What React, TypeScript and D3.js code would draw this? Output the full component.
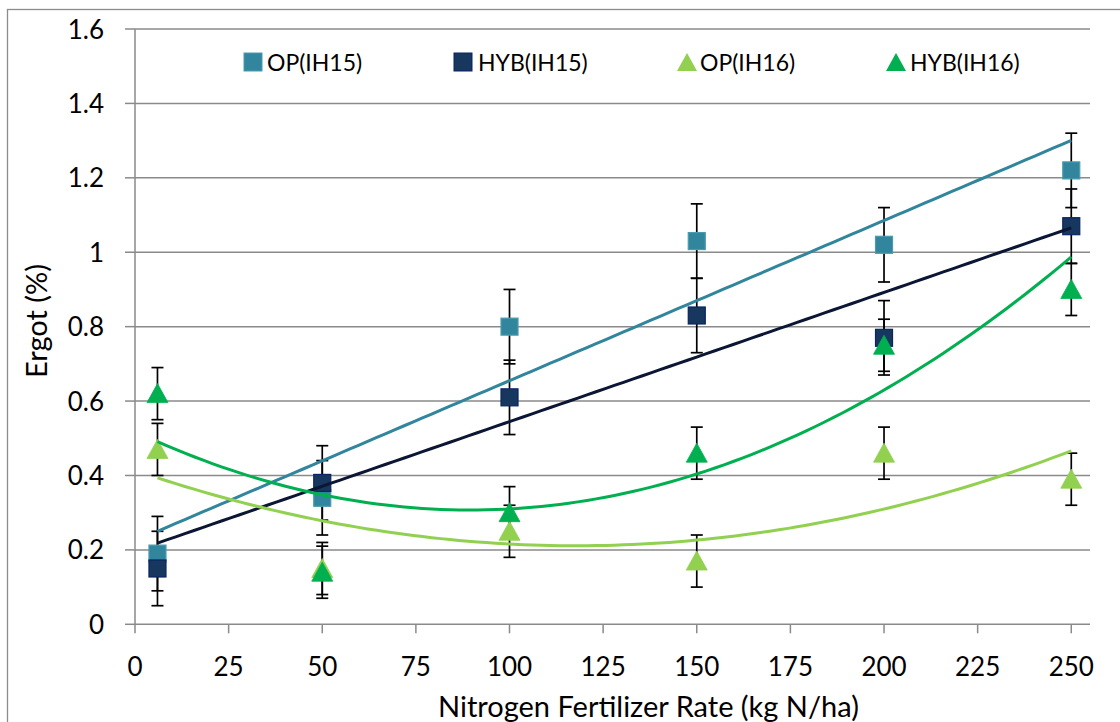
import React from "react";
import * as d3 from "d3";

// ---------- data ----------
const xValues = [6, 50, 100, 150, 200, 250];
const opIH15 = [0.19, 0.34, 0.8, 1.03, 1.02, 1.22];
const hybIH15 = [0.15, 0.38, 0.61, 0.83, 0.77, 1.07];
const opIH16 = [0.47, 0.15, 0.25, 0.17, 0.46, 0.39];
const hybIH16 = [0.62, 0.14, 0.3, 0.46, 0.75, 0.9];
const opIH15Err = [0.1, 0.1, 0.1, 0.1, 0.1, 0.1];
const hybIH15Err = [0.1, 0.1, 0.1, 0.1, 0.1, 0.1];
const opIH16Err = [0.07, 0.07, 0.07, 0.07, 0.07, 0.07];
const hybIH16Err = [0.07, 0.07, 0.07, 0.07, 0.07, 0.07];
const seriesNames = ["OP(IH15)", "HYB(IH15)", "OP(IH16)", "HYB(IH16)"];
const xTicks = [0, 25, 50, 75, 100, 125, 150, 175, 200, 225, 250];
const yTicks = [0, 0.2, 0.4, 0.6, 0.8, 1, 1.2, 1.4, 1.6];
const xTitle = "Nitrogen Fertilizer Rate (kg N/ha)";
const yTitle = "Ergot (%)";

// ---------- fits ----------
function polyFit(xs: number[], ys: number[], degree: number): number[] {
  const n = degree + 1;
  const A: number[][] = Array.from({ length: n }, () => new Array(n + 1).fill(0));
  for (let i = 0; i < xs.length; i++) {
    for (let r = 0; r < n; r++) {
      for (let c = 0; c < n; c++) A[r][c] += Math.pow(xs[i], r + c);
      A[r][n] += ys[i] * Math.pow(xs[i], r);
    }
  }
  for (let p = 0; p < n; p++) {
    let max = p;
    for (let r = p + 1; r < n; r++) if (Math.abs(A[r][p]) > Math.abs(A[max][p])) max = r;
    [A[p], A[max]] = [A[max], A[p]];
    for (let r = p + 1; r < n; r++) {
      const f = A[r][p] / A[p][p];
      for (let c = p; c <= n; c++) A[r][c] -= f * A[p][c];
    }
  }
  const coef = new Array(n).fill(0);
  for (let r = n - 1; r >= 0; r--) {
    let s = A[r][n];
    for (let c = r + 1; c < n; c++) s -= A[r][c] * coef[c];
    coef[r] = s / A[r][r];
  }
  return coef;
}
const evalPoly = (coef: number[], x: number) => coef.reduce((s, c, i) => s + c * Math.pow(x, i), 0);

const FONT = "Lato, 'Open Sans', sans-serif";

export default function App() {
  const W = 1120;
  const H = 722;
  const x = d3.scaleLinear().domain([0, 255]).range([135, 1090]);
  const y = d3.scaleLinear().domain([0, 1.6]).range([624.3, 29]);

  const series = [
    { name: seriesNames[0], vals: opIH15, err: opIH15Err, shape: "square", fill: "#31859C", stroke: "#4A9BB0", line: "#31859C", deg: 1 },
    { name: seriesNames[1], vals: hybIH15, err: hybIH15Err, shape: "square", fill: "#17375E", stroke: "#0A2464", line: "#0B1634", deg: 1 },
    { name: seriesNames[2], vals: opIH16, err: opIH16Err, shape: "triangle", fill: "#92D050", stroke: "#92D050", line: "#92D050", deg: 2 },
    { name: seriesNames[3], vals: hybIH16, err: hybIH16Err, shape: "triangle", fill: "#00B050", stroke: "#00B050", line: "#00B050", deg: 2 },
  ];

  const xMin = d3.min(xValues) as number;
  const xMax = d3.max(xValues) as number;
  const samples = d3.range(0, 101).map((i) => xMin + ((xMax - xMin) * i) / 100);
  const lineGen = d3
    .line<[number, number]>()
    .x((d) => x(d[0]))
    .y((d) => y(d[1]));

  const marker = (shape: string, cx: number, cy: number, fill: string, stroke: string, key: string) => {
    if (shape === "square") {
      return <rect key={key} x={cx - 8.5} y={cy - 8.5} width={17} height={17} fill={fill} stroke={stroke} strokeWidth={1.2} />;
    }
    const p = d3.path();
    p.moveTo(cx, cy - 10);
    p.lineTo(cx + 10.5, cy + 9);
    p.lineTo(cx - 10.5, cy + 9);
    p.closePath();
    return <path key={key} d={p.toString()} fill={fill} stroke={stroke} strokeWidth={0.8} />;
  };

  const gridColor = "#8A8A8A";

  return (
    <div style={{ position: "absolute", left: 0, top: 0 }}>
      <svg width={W} height={H} style={{ display: "block", background: "#fff" }}>
        <rect x={7.5} y={9.5} width={1300} height={900} fill="none" stroke="#8C8C8C" strokeWidth={1.3} />
        {/* grid */}
        {yTicks.map((t) => (
          <g key={"g" + t}>
            {t > 0 && <line x1={x(0)} x2={x(255)} y1={y(t)} y2={y(t)} stroke={gridColor} strokeWidth={1.5} />}
            <line x1={125} x2={x(0)} y1={y(t)} y2={y(t)} stroke={gridColor} strokeWidth={1.5} />
            <text x={104} y={y(t) + 9.5} textAnchor="end" fontFamily={FONT} fontSize={26} fill="#000">
              {d3.format("")(Number(t.toFixed(1)))}
            </text>
          </g>
        ))}
        {/* axes */}
        <line x1={x(0)} x2={x(0)} y1={y(1.6)} y2={y(0)} stroke={gridColor} strokeWidth={1.5} />
        <line x1={x(0)} x2={x(255)} y1={y(0)} y2={y(0)} stroke={gridColor} strokeWidth={1.5} />
        {xTicks.map((t) => (
          <g key={"x" + t}>
            <line x1={x(t)} x2={x(t)} y1={y(0)} y2={y(0) + 9} stroke={gridColor} strokeWidth={1.5} />
            <text x={x(t)} y={676} textAnchor="middle" fontFamily={FONT} fontSize={26} fill="#000">
              {t}
            </text>
          </g>
        ))}
        {/* error bars */}
        {series.map((s, si) =>
          s.vals.map((v, i) => {
            const cx = x(xValues[i]);
            const top = y(v + s.err[i]);
            const bot = y(v - s.err[i]);
            return (
              <g key={"e" + si + "-" + i} stroke="#000" strokeWidth={1.7}>
                <line x1={cx} x2={cx} y1={top} y2={bot} />
                <line x1={cx - 6} x2={cx + 6} y1={top} y2={top} />
                <line x1={cx - 6} x2={cx + 6} y1={bot} y2={bot} />
              </g>
            );
          })
        )}
        {/* markers */}
        {series.map((s, si) =>
          s.vals.map((v, i) => marker(s.shape, x(xValues[i]), y(v), s.fill, s.stroke, "m" + si + "-" + i))
        )}
        {/* trendlines */}
        {series.map((s, si) => {
          const coef = polyFit(xValues, s.vals, s.deg);
          const pts: [number, number][] = samples.map((sx) => [sx, evalPoly(coef, sx)]);
          return <path key={"t" + si} d={lineGen(pts) || ""} fill="none" stroke={s.line} strokeWidth={3} />;
        })}
        {/* legend */}
        {series.map((s, si) => {
          const lx = [253, 463, 687, 896][si];
          const tx = [267, 478, 700, 910][si];
          return (
            <g key={"l" + si}>
              {s.shape === "square" ? (
                <rect x={lx - 9} y={53} width={18} height={18} fill={s.fill} stroke={s.stroke} strokeWidth={1} />
              ) : (
                <path d={`M${lx},${53}L${lx + 10},${71}L${lx - 10},${71}Z`} fill={s.fill} />
              )}
              <text x={tx} y={71} fontFamily={FONT} fontSize={23} fill="#000">
                {s.name}
              </text>
            </g>
          );
        })}
        {/* titles */}
        <text x={648.5} y={716.5} textAnchor="middle" fontFamily={FONT} fontSize={29} fill="#000">
          {xTitle}
        </text>
        <text transform="translate(47,321) rotate(-90)" textAnchor="middle" fontFamily={FONT} fontSize={29} fill="#000">
          {yTitle}
        </text>
      </svg>
    </div>
  );
}
